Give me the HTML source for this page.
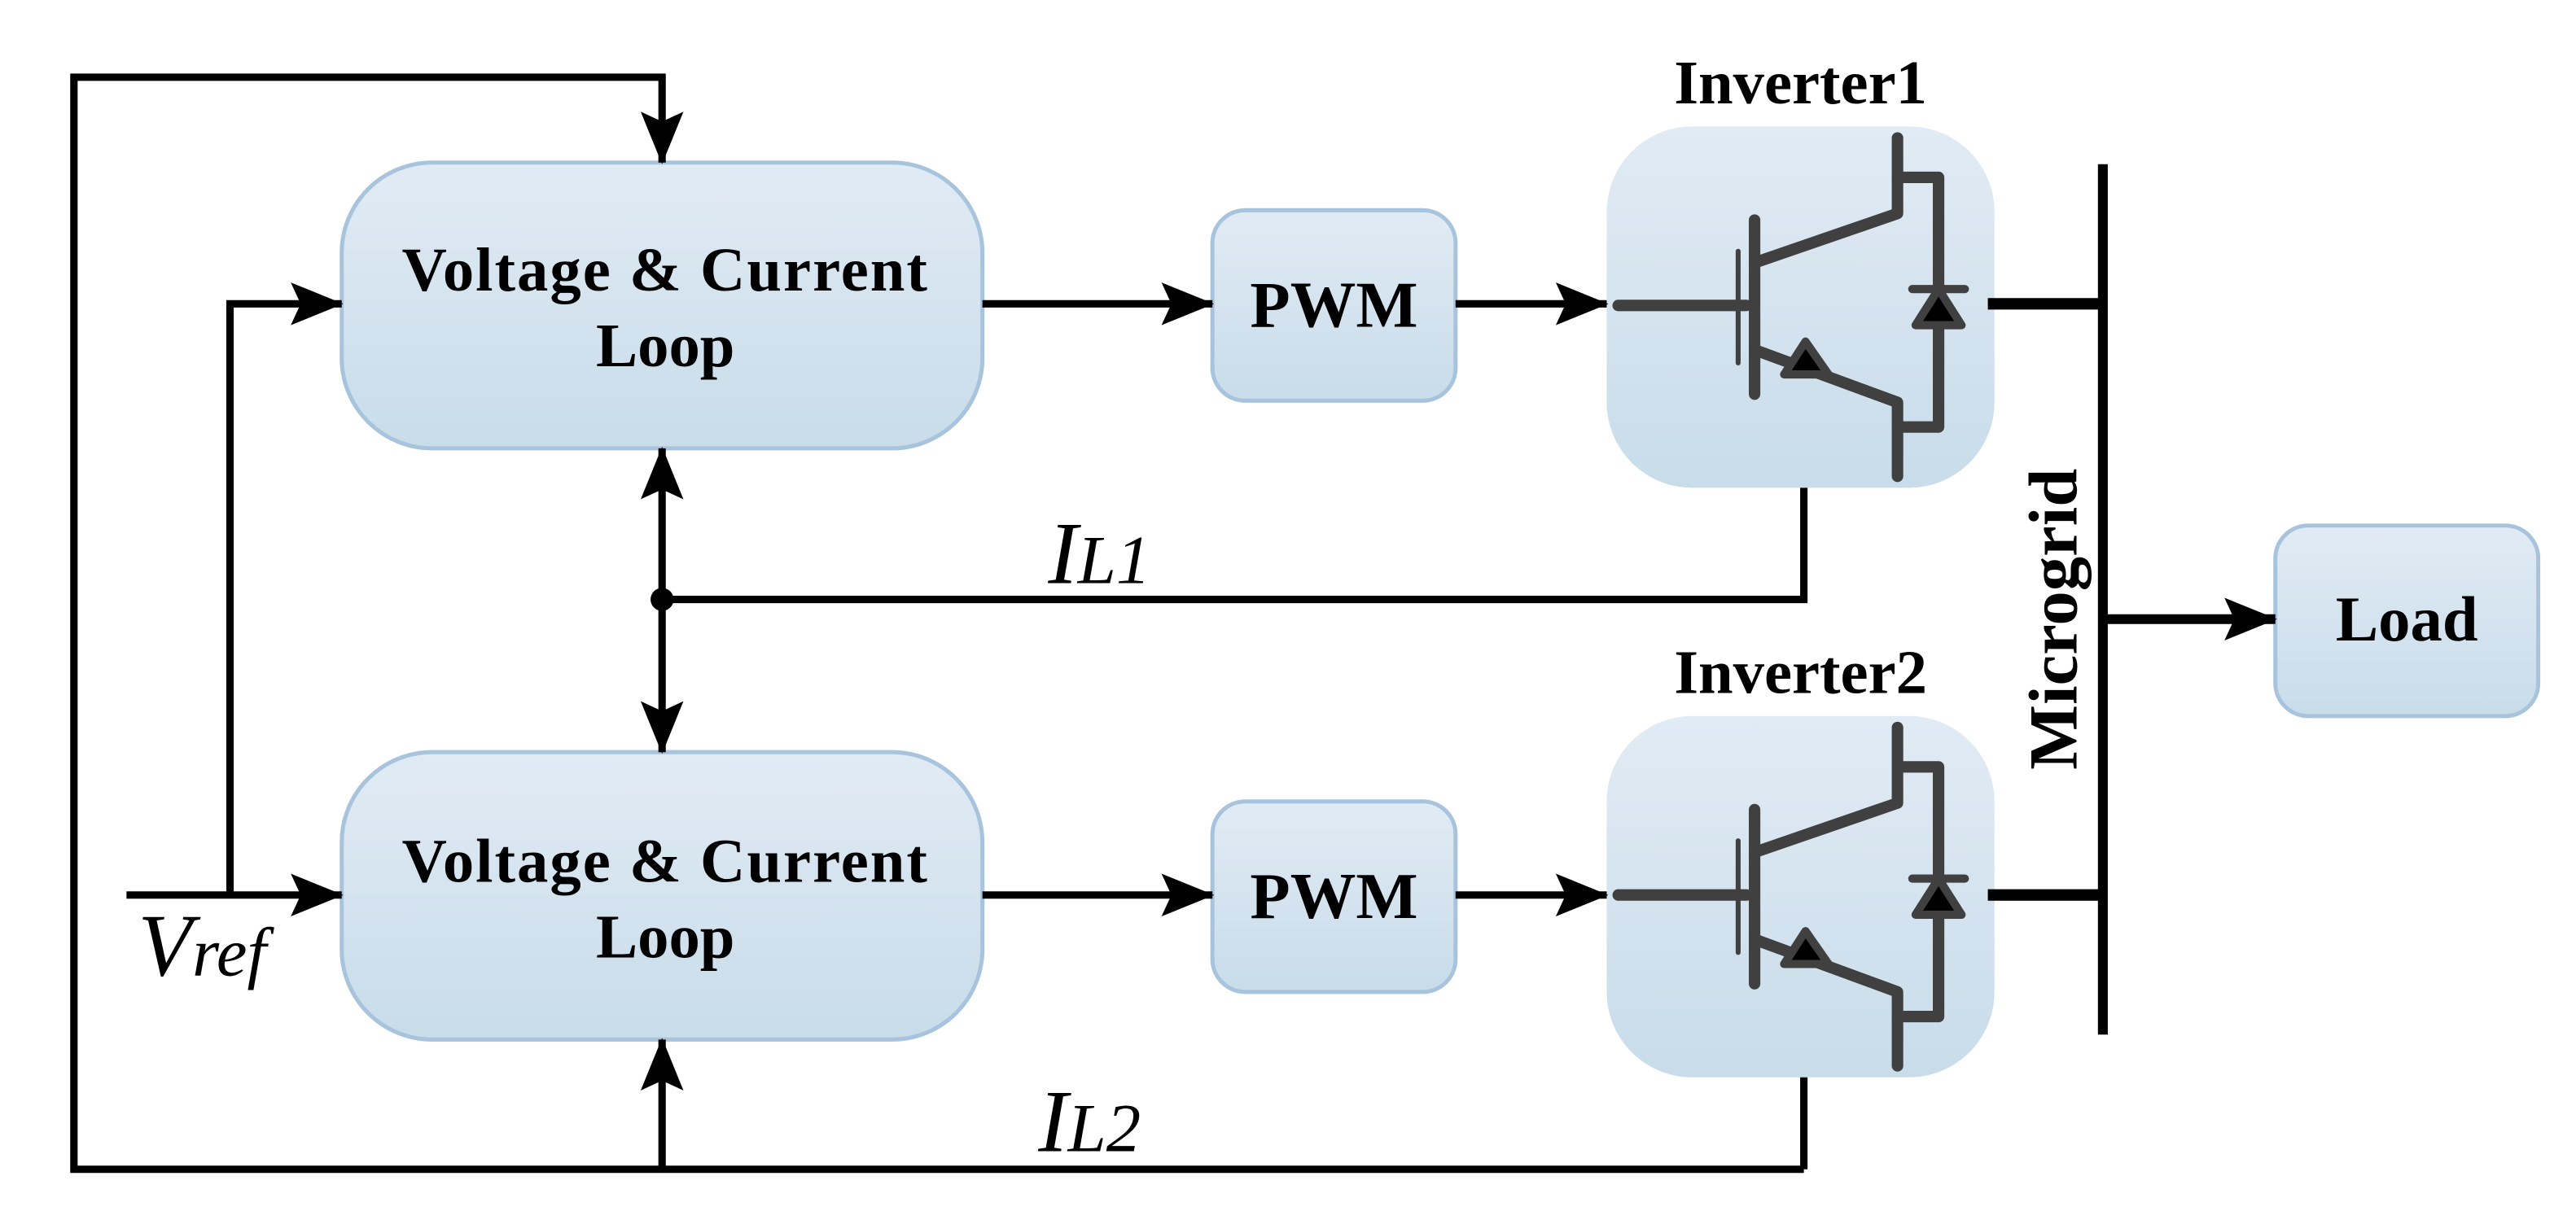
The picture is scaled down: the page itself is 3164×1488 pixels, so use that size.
<!DOCTYPE html>
<html><head><meta charset="utf-8"><style>html,body{margin:0;padding:0;background:#fff}svg{display:block}</style></head>
<body>
<svg width="3164" height="1488" viewBox="0 0 1568 737.4" xmlns="http://www.w3.org/2000/svg">
<defs>
<linearGradient id="g" x1="0" y1="0" x2="0" y2="1"><stop offset="0" stop-color="#e1ebf4"/><stop offset="1" stop-color="#c8dcea"/></linearGradient>
<marker id="a" viewBox="0 0 32 26" refX="31" refY="13" markerWidth="32" markerHeight="26" markerUnits="userSpaceOnUse" orient="auto"><path d="M0,0 L32,13 L0,26 L6,13 z" fill="#000"/></marker>
</defs>
<g fill="url(#g)" stroke="#a8c4dd" stroke-width="2.5">
<rect x="208" y="99" width="390" height="174" rx="55"/>
<rect x="208" y="458" width="390" height="175" rx="55"/>
<rect x="738" y="128" width="148" height="116" rx="20"/>
<rect x="738" y="488" width="148" height="116" rx="20"/>
<rect x="1385" y="320" width="160" height="116" rx="20"/>
</g>
<g fill="url(#g)" stroke="none">
<rect x="978" y="77" width="236" height="220" rx="52"/>
<rect x="978" y="436" width="236" height="220" rx="52"/>
</g>
<g fill="none" stroke="#000" stroke-width="4.5">
<polyline points="1098,712 45,712 45,47 403,47 403,99" marker-end="url(#a)"/>
<polyline points="140,545 140,185 208,185" marker-end="url(#a)"/>
<line x1="77" y1="545" x2="208" y2="545" marker-end="url(#a)"/>
<line x1="598" y1="185" x2="738" y2="185" marker-end="url(#a)"/>
<line x1="886" y1="185" x2="978" y2="185" marker-end="url(#a)"/>
<line x1="598" y1="545" x2="738" y2="545" marker-end="url(#a)"/>
<line x1="886" y1="545" x2="978" y2="545" marker-end="url(#a)"/>
<polyline points="1098,297 1098,365 403,365"/>
<line x1="403" y1="365" x2="403" y2="273" marker-end="url(#a)"/>
<line x1="403" y1="365" x2="403" y2="458" marker-end="url(#a)"/>
<line x1="1098" y1="656" x2="1098" y2="712"/>
<line x1="403" y1="712" x2="403" y2="633" marker-end="url(#a)"/>
<line x1="1280" y1="100" x2="1280" y2="630" stroke-width="6"/>
<line x1="1210" y1="185" x2="1280" y2="185" stroke-width="7"/>
<line x1="1210" y1="545" x2="1280" y2="545" stroke-width="7"/>
<line x1="1280" y1="377" x2="1385" y2="377" stroke-width="6" marker-end="url(#a)"/>
</g>
<circle cx="403" cy="365" r="7" fill="#000"/>
<g id="igbt" fill="none" stroke="#404040" stroke-width="7" stroke-linecap="round" stroke-linejoin="round">
<line x1="985" y1="186" x2="1063" y2="186"/>
<line x1="1058" y1="153" x2="1058" y2="221" stroke-width="3"/>
<line x1="1068" y1="134" x2="1068" y2="240"/>
<polyline points="1068,160 1155,130 1155,84"/>
<polyline points="1068,213 1155,245 1155,290"/>
<polyline points="1155,108 1180,108 1180,260 1155,260"/>
<path d="M1086,228 L1099,208 L1113,228 Z" fill="#000" stroke-width="5"/>
<path d="M1166,198 L1180,176 L1194,198 Z" fill="#000" stroke-width="5"/>
<line x1="1164" y1="176" x2="1196" y2="176" stroke-width="5"/>
</g>
<use href="#igbt" y="359"/>
<g font-family="Liberation Serif, serif" font-weight="bold" fill="#000" text-anchor="middle">
<text x="405" y="177" font-size="38" letter-spacing="1">Voltage &amp; Current</text>
<text x="405" y="223" font-size="38">Loop</text>
<text x="405" y="537" font-size="38" letter-spacing="1">Voltage &amp; Current</text>
<text x="405" y="583" font-size="38">Loop</text>
<text x="812" y="199" font-size="40">PWM</text>
<text x="812" y="559" font-size="40">PWM</text>
<text x="1465" y="390" font-size="39">Load</text>
<text x="1096" y="63" font-size="38">Inverter1</text>
<text x="1096" y="422" font-size="38">Inverter2</text>
<text x="0" y="0" font-size="42" transform="translate(1264,377) rotate(-90)">Microgrid</text>
</g>
<g font-family="Liberation Serif, serif" font-style="italic" fill="#000">
<text x="638" y="355" font-size="54">I<tspan font-size="42">L1</tspan></text>
<text x="632" y="701" font-size="54">I<tspan font-size="42">L2</tspan></text>
<text x="84" y="594" font-size="54">V<tspan font-size="42">ref</tspan></text>
</g>
</svg>
</body></html>
